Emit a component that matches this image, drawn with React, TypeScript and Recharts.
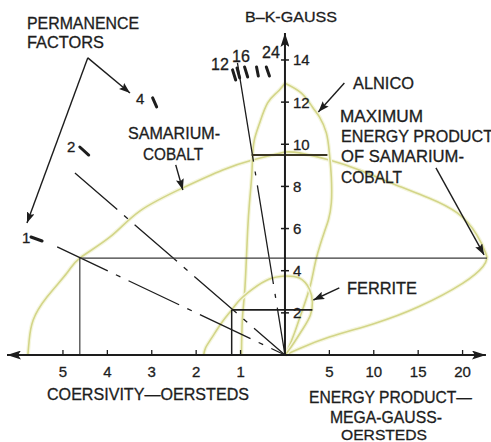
import React from 'react';
import { ComposedChart, Line, Scatter, XAxis, YAxis } from 'recharts';

const K = 5; // 1 kOe of coercivity is drawn as wide as 5 MGOe of energy product

// axis extents: coercivity to the left (as -K*H), energy product to the right, B upwards
const X_MIN = -31.3;
const X_MAX = 22.63;
const Y_MAX = 15.28;

const coercivityTicks = [5, 4, 3, 2, 1]; // kOe
const energyTicks = [5, 10, 15, 20]; // MGOe
const fluxTicks = [2, 4, 6, 8, 10, 12, 14]; // kG

// demagnetization curves, [H kOe, B kG]
const smcoDemag = [
  [0, 9.63], [0.73, 9.25], [1.4, 8.78], [2.3, 7.93], [3.27, 6.83], [3.94, 5.6],
  [4.62, 4.6], [4.91, 3.89], [5.36, 2.75], [5.67, 1.66], [5.76, 0.71], [5.79, 0],
];
const alnicoDemag = [
  [0, 12.9], [0.17, 12.48], [0.39, 11.96], [0.57, 11.01], [0.69, 10.2], [0.73, 9.4],
  [0.75, 8.45], [0.8, 7.21], [0.84, 5.93], [0.87, 4.51], [0.91, 2.94], [0.96, 1.66], [0.98, 0],
];
const ferriteDemag = [
  [0, 3.75], [0.35, 3.61], [0.73, 3.13], [1.02, 2.61], [1.2, 2.14], [1.43, 1.52],
  [1.65, 0.81], [1.79, 0.33], [1.83, 0],
];

// energy product curves, [BH MGOe, B kG]
const smcoEnergyUpper = [
  [0, 9.63], [1.63, 9.59], [5.0, 9.25], [8.37, 8.78], [13.1, 7.97], [16.2, 7.45],
  [19.4, 6.74], [21.6, 5.7], [22.6, 4.84], [22.75, 4.6],
];
const smcoEnergyLower = [
  [22.75, 4.6], [22.3, 4.2], [20.0, 3.4], [15.1, 2.3], [10.1, 1.5], [5.0, 0.85], [1.6, 0.3], [0, 0],
];
const alnicoEnergy = [
  [0, 12.9], [1.85, 12.43], [3.09, 11.77], [3.88, 11.3], [4.66, 10.54], [5.0, 9.59],
  [5.22, 8.45], [5.22, 7.21], [4.89, 6.41], [4.44, 5.84], [3.54, 4.6], [2.87, 3.32],
  [1.97, 2.14], [1.07, 1.04], [0.39, 0.33], [0, 0],
];
const ferriteEnergy = [
  [0, 3.75], [1.63, 3.65], [2.75, 3.13], [3.09, 2.52], [2.87, 1.9], [2.08, 1.28],
  [1.07, 0.62], [0.28, 0.14], [0, 0],
];

// maximum energy points: [H kOe, B kG, BH MGOe]
const smcoMax = [4.62, 4.6, 22.75];
const alnicoMax = [0.75, 9.49, 4.78];
const ferriteMax = [1.2, 2.14, 3.09];

// permeance lines out of the origin, far end [H, B]
const permeanceLines = [[5.13, 5.13], [4.73, 8.64], [1.07, 13.86]];

// permeance factor marks, [H, B] -> [H, B]
const permeanceMarks = [
  [[5.72, 5.6], [5.47, 5.41]], // 1
  [[4.62, 9.87], [4.42, 9.49]], // 2
  [[2.98, 12.2], [2.89, 11.77]], // 4
  [[1.18, 13.53], [1.11, 13.05]], // 12
  [[1.08, 13.62], [1.02, 13.15]],
  [[0.91, 13.67], [0.84, 13.19]], // 16
  [[0.64, 13.67], [0.6, 13.24]],
  [[0.42, 13.67], [0.35, 13.24]], // 24
];

// callout arrows, tail -> head
const leftArrows = [
  [[4.44, 14.1], [3.49, 12.43]],
  [[4.44, 14.1], [5.81, 6.26]],
  [[2.46, 9.02], [2.3, 7.83]],
];
const rightArrows = [
  [[6.69, 12.91], [3.76, 11.53]],
  [[17.0, 8.88], [22.42, 4.75]],
  [[6.12, 3.18], [3.2, 2.61]],
];

const INK = '#1d1d1d';
const CURVE = '#d3d588';
const HALO = '#f5f6df';
const FONT = "'Liberation Sans', Arial, sans-serif";

const fromH = (pts: number[][]) => pts.map(([h, b]) => ({ x: -h * K, y: b }));
const fromBH = (pts: number[][]) => pts.map(([e, b]) => ({ x: e, y: b }));

const xTicks = [...coercivityTicks.map((h) => -h * K), ...energyTicks];

const XTick = (props: any) => {
  const { x, y, payload } = props;
  const v = payload.value;
  const label = v < 0 ? String(-v / K) : String(v);
  return (
    <g>
      <line x1={x} x2={x} y1={y} y2={y - 5} stroke={INK} strokeWidth={1.3} />
      <text x={x} y={y + 22} textAnchor="middle" fontSize={15} fill={INK} fontFamily={FONT}
        stroke={INK} strokeWidth={0.3}>
        {label}
      </text>
    </g>
  );
};

const BTick = (props: any) => {
  const { cx, cy, payload } = props;
  return (
    <g>
      <line x1={cx - 4} x2={cx + 4} y1={cy} y2={cy} stroke={INK} strokeWidth={1.5} />
      <text x={cx + 8} y={cy + 5.5} fontSize={15} fill={INK} fontFamily={FONT} stroke={INK} strokeWidth={0.3}>
        {payload.y}
      </text>
    </g>
  );
};

const Txt = ({ x, y, w, size = 16, children }: any) => (
  <text x={x} y={y} fontSize={size} fill={INK} fontFamily={FONT} stroke={INK} strokeWidth={0.3}
    textLength={w} lengthAdjust="spacingAndGlyphs">
    {children}
  </text>
);

const curve = (key: string, data: any[]) => [
  <Line key={key + '-halo'} data={data} dataKey="y" type="natural" stroke={HALO} strokeWidth={4}
    dot={false} activeDot={false} isAnimationActive={false} />,
  <Line key={key} data={data} dataKey="y" type="natural" stroke={CURVE} strokeWidth={1.6}
    dot={false} activeDot={false} isAnimationActive={false} />,
];

const seg = (key: string, data: any[], extra: any = {}) => (
  <Line key={key} data={data} dataKey="y" type="linear" stroke={INK} strokeWidth={1.3}
    dot={false} activeDot={false} isAnimationActive={false} {...extra} />
);

export default function App() {
  const [sh, sb, se] = smcoMax;
  const [ah, ab, ae] = alnicoMax;
  const [fh, fb, fe] = ferriteMax;

  return (
    <div style={{ position: 'absolute', left: 0, top: 0, width: 491, height: 442, background: '#fff' }}>
      <ComposedChart width={491} height={442} margin={{ top: 33, right: 4, bottom: 57, left: 7 }}>
        <XAxis dataKey="x" type="number" domain={[X_MIN, X_MAX]} ticks={xTicks} interval={0}
          axisLine={false} tickLine={false} tickSize={0} tickMargin={0} height={30} tick={<XTick />} />
        <YAxis dataKey="y" type="number" domain={[0, Y_MAX]} hide />

        {curve('smco-demag', fromH(smcoDemag))}
        {curve('smco-up', fromBH(smcoEnergyUpper))}
        {curve('smco-low', fromBH(smcoEnergyLower))}
        {curve('alnico-demag', fromH(alnicoDemag))}
        {curve('alnico-energy', fromBH(alnicoEnergy))}
        {curve('ferrite-demag', fromH(ferriteDemag))}
        {curve('ferrite-energy', fromBH(ferriteEnergy))}

        {permeanceLines.map(([h, b], i) =>
          seg('perm-' + i, [{ x: -h * K, y: b }, { x: 0, y: 0 }], {
            strokeDasharray: i === 2 ? '100 10 4 10' : '56 9 5 9',
          })
        )}

        {seg('smco-max-h', [{ x: -sh * K, y: sb }, { x: se, y: sb }], { strokeWidth: 1.2, stroke: '#3a3a3a' })}
        {seg('smco-max-v', [{ x: -sh * K, y: 0 }, { x: -sh * K, y: sb }], { strokeWidth: 1.2, stroke: '#3a3a3a' })}
        {seg('alnico-max-h', [{ x: -ah * K, y: ab }, { x: ae, y: ab }], { strokeWidth: 2.2, stroke: '#3a3522' })}
        {seg('ferrite-max-h', [{ x: -fh * K, y: fb }, { x: fe, y: fb }], { strokeWidth: 1.8 })}
        {seg('ferrite-max-v', [{ x: -fh * K, y: 0 }, { x: -fh * K, y: fb }], { strokeWidth: 1.5 })}

        {permeanceMarks.map(([a, b], i) =>
          seg('mark-' + i, fromH([a, b]), { strokeWidth: 3, strokeLinecap: 'round' })
        )}

        {leftArrows.map(([a, b], i) =>
          seg('la-' + i, fromH([a, b]), { strokeWidth: 1.4, markerEnd: 'url(#arrowHead)' })
        )}
        {rightArrows.map(([a, b], i) =>
          seg('ra-' + i, fromBH([a, b]), { strokeWidth: 1.4, markerEnd: 'url(#arrowHead)' })
        )}

        {seg('axis-x', [{ x: X_MIN, y: 0 }, { x: X_MAX, y: 0 }], {
          strokeWidth: 2.2, markerStart: 'url(#axisHead)', markerEnd: 'url(#axisHead)',
        })}
        {seg('axis-y', [{ x: 0, y: 0 }, { x: 0, y: Y_MAX }], { strokeWidth: 2, markerEnd: 'url(#axisHead)' })}

        <Scatter data={fluxTicks.map((b) => ({ x: 0, y: b }))} dataKey="y" isAnimationActive={false}
          shape={(p: any) => <BTick {...p} />} />
      </ComposedChart>

      <svg width={491} height={442} style={{ position: 'absolute', left: 0, top: 0, pointerEvents: 'none' }}>
        <defs>
          <marker id="arrowHead" viewBox="0 0 11 8" refX={11} refY={4} markerWidth={11} markerHeight={8}
            markerUnits="userSpaceOnUse" orient="auto">
            <path d="M0,0 L11,4 L0,8 L2,4 Z" fill={INK} />
          </marker>
          <marker id="axisHead" viewBox="0 0 14 9" refX={14} refY={4.5} markerWidth={14} markerHeight={9}
            markerUnits="userSpaceOnUse" orient="auto-start-reverse">
            <path d="M0,0 L14,4.5 L0,9 L3,4.5 Z" fill={INK} />
          </marker>
        </defs>

        <Txt x={245} y={22} w={92} size={15}>B–K-GAUSS</Txt>
        <Txt x={27} y={29} w={112}>PERMANENCE</Txt>
        <Txt x={27} y={48} w={77}>FACTORS</Txt>
        <Txt x={128} y={139} w={92}>SAMARIUM-</Txt>
        <Txt x={143} y={160} w={60}>COBALT</Txt>
        <Txt x={353} y={89} w={61}>ALNICO</Txt>
        <Txt x={340} y={122} w={83}>MAXIMUM</Txt>
        <Txt x={341} y={142} w={152}>ENERGY PRODUCT</Txt>
        <Txt x={341} y={162} w={123}>OF SAMARIUM-</Txt>
        <Txt x={341} y={183} w={61}>COBALT</Txt>
        <Txt x={347} y={294} w={70}>FERRITE</Txt>
        <Txt x={47} y={400} w={202}>COERSIVITY—OERSTEDS</Txt>
        <Txt x={309} y={403} w={163}>ENERGY PRODUCT—</Txt>
        <Txt x={330} y={423} w={112}>MEGA-GAUSS-</Txt>
        <Txt x={341} y={440} w={86} size={15}>OERSTEDS</Txt>

        <Txt x={22} y={243} size={15}>1</Txt>
        <Txt x={67} y={152} size={15}>2</Txt>
        <Txt x={136} y={104} size={15}>4</Txt>
        <Txt x={211} y={70} size={16}>12</Txt>
        <Txt x={232} y={62} size={16}>16</Txt>
        <Txt x={262} y={58} size={16}>24</Txt>
      </svg>
    </div>
  );
}
